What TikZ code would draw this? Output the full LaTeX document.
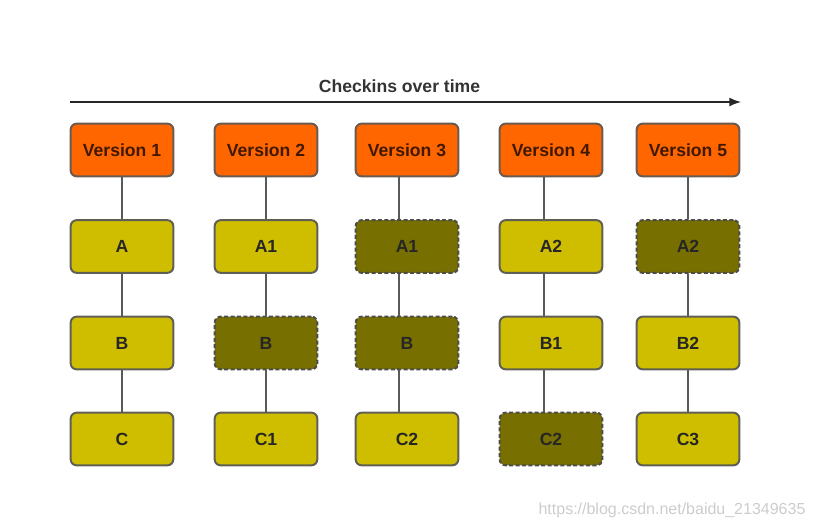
\documentclass[tikz,border=0pt]{standalone}
\usepackage{fontspec}
\setmainfont{Liberation Sans}
\usepackage[dvipsnames]{xcolor}
\definecolor{versionfill}{HTML}{FF6600}
\definecolor{versionline}{HTML}{6B5A50}
\definecolor{filefill}{HTML}{CFBE00}
\definecolor{samefill}{HTML}{776F00}
\definecolor{boxline}{HTML}{5F5F55}
\tikzset{
  basebox/.style={rounded corners=4.5pt,minimum width=77pt,minimum height=39.5pt,inner sep=0pt,font=\bfseries\fontsize{13.2pt}{15pt}\selectfont,text=black!85},
  versionbox/.style={basebox,draw=versionline,line width=1.5pt,fill=versionfill,text=black!75!versionfill},
  filebox/.style={basebox,draw=boxline,line width=1.5pt,fill=filefill},
  samebox/.style={basebox,draw=black!70,line width=1.5pt,dash pattern=on 3pt off 1.8pt,fill=samefill},
  linkline/.style={draw=black!65,line width=1.2pt},
}
\begin{document}
\begin{tikzpicture}[x=0.75pt,y=0.75pt,yscale=-1,xscale=1]
\useasboundingbox (0,0) rectangle (814,529);

%Time arrow
\coordinate (timeA) at (70,102);
\coordinate (timeB) at (741,102);
\draw [line width=2pt,draw=black!85,-latex] (timeA) -- (timeB);
% Text Node
\node (timelabel) at (399.5,86) [font=\bfseries\fontsize{13.2pt}{15pt}\selectfont,text=black!80,inner sep=0.75pt] {Checkins over time};

% Version 1
\node (v1) at (122,150) [versionbox] {Version 1};
\node (a1) at (122,246.5) [filebox] {A};
\node (b1) at (122,343) [filebox] {B};
\node (c1) at (122,439) [filebox] {C};
% Version 2
\node (v2) at (266,150) [versionbox] {Version 2};
\node (a2) at (266,246.5) [filebox] {A1};
\node (b2) at (266,343) [samebox] {B};
\node (c2) at (266,439) [filebox] {C1};
% Version 3
\node (v3) at (407,150) [versionbox] {Version 3};
\node (a3) at (407,246.5) [samebox] {A1};
\node (b3) at (407,343) [samebox] {B};
\node (c3) at (407,439) [filebox] {C2};
% Version 4
\node (v4) at (551,150) [versionbox] {Version 4};
\node (a4) at (551,246.5) [filebox] {A2};
\node (b4) at (551,343) [filebox] {B1};
\node (c4) at (551,439) [samebox] {C2};
% Version 5
\node (v5) at (688,150) [versionbox] {Version 5};
\node (a5) at (688,246.5) [samebox] {A2};
\node (b5) at (688,343) [filebox] {B2};
\node (c5) at (688,439) [filebox] {C3};

%Straight Lines
\draw [linkline] (v1) -- (a1);
\draw [linkline] (a1) -- (b1);
\draw [linkline] (b1) -- (c1);
\draw [linkline] (v2) -- (a2);
\draw [linkline] (a2) -- (b2);
\draw [linkline] (b2) -- (c2);
\draw [linkline] ([xshift=-6pt]v3.south) -- ([xshift=-6pt]a3.north);
\draw [linkline] ([xshift=-6pt]a3.south) -- ([xshift=-6pt]b3.north);
\draw [linkline] ([xshift=-6pt]b3.south) -- ([xshift=-6pt]c3.north);
\draw [linkline] ([xshift=-5.25pt]v4.south) -- ([xshift=-5.25pt]a4.north);
\draw [linkline] ([xshift=-5.25pt]a4.south) -- ([xshift=-5.25pt]b4.north);
\draw [linkline] ([xshift=-5.25pt]b4.south) -- ([xshift=-5.25pt]c4.north);
\draw [linkline] (v5) -- (a5);
\draw [linkline] (a5) -- (b5);
\draw [linkline] (b5) -- (c5);

% Text Node
\node (mark) at (672,510) [font=\fontsize{12pt}{14pt}\selectfont,text=black!20,inner sep=0.75pt] {https://blog.csdn.net/baidu\_21349635};

\end{tikzpicture}
\end{document}
